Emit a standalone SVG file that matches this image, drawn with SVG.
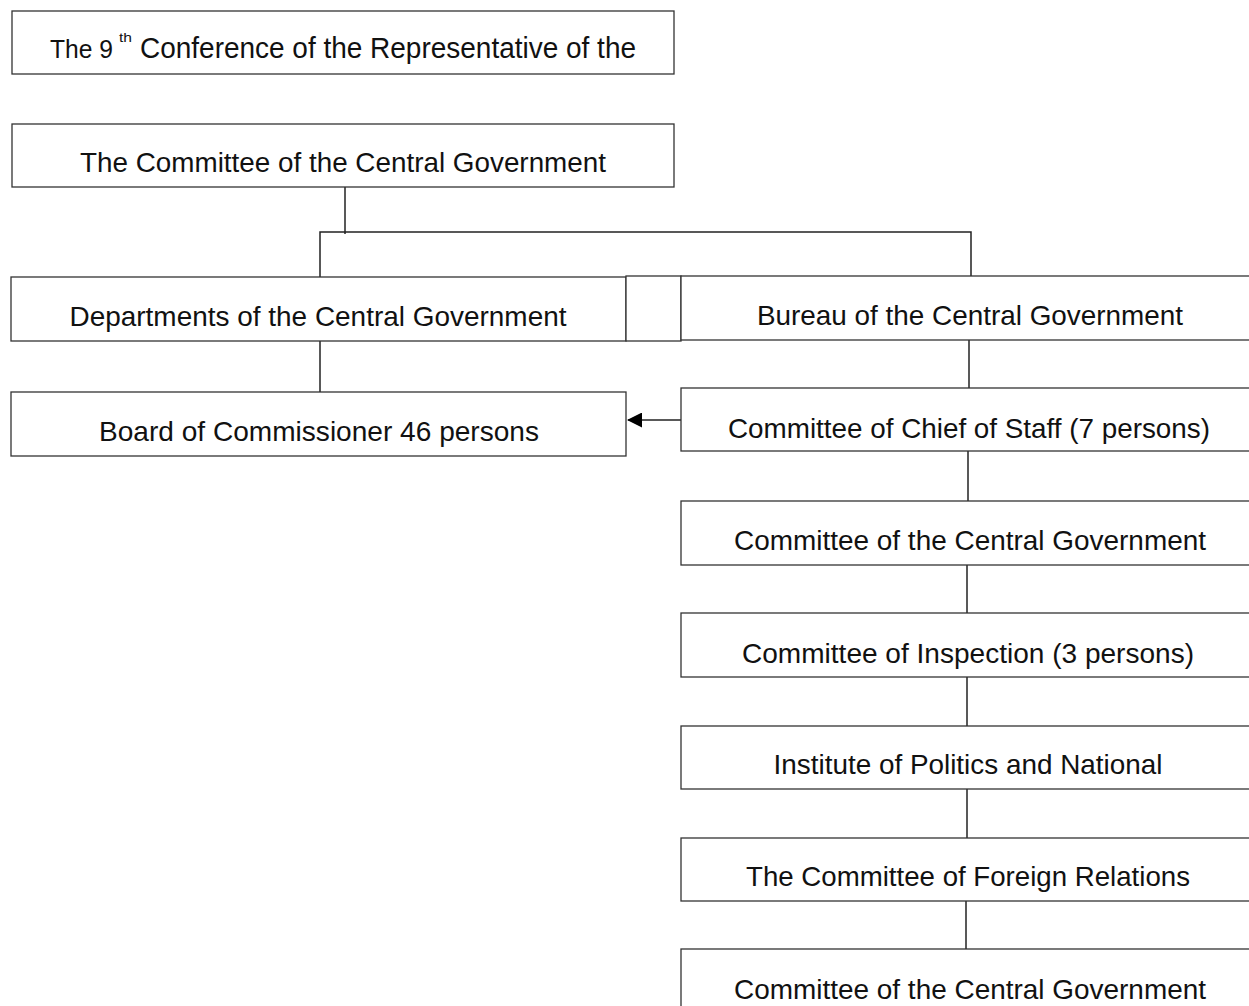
<svg xmlns="http://www.w3.org/2000/svg" width="1249" height="1006" viewBox="0 0 1249 1006">
<style>
.box{fill:#fff;stroke:#333;stroke-width:1.3}
.t{font-family:"Liberation Sans",Arial,sans-serif;font-size:27.5px;fill:#111;text-anchor:middle}
.n{font-family:"Liberation Sans Narrow","Liberation Sans",Arial,sans-serif;font-size:29px;fill:#111}
.n9{font-family:"Liberation Sans Narrow","Liberation Sans",Arial,sans-serif;font-size:26px;fill:#111}
.sup{font-family:"Liberation Sans",Arial,sans-serif;font-size:13px;fill:#111}
.c{fill:none;stroke:#222;stroke-width:1.5}
</style>
<defs>
<marker id="ah" markerWidth="15" markerHeight="15" refX="14" refY="7.5" orient="auto" markerUnits="userSpaceOnUse">
<path d="M0,0 L15,7.5 L0,15 Z" fill="#000"/>
</marker>
</defs>
<rect width="1249" height="1006" fill="#fff"/>
<g id="connectors">
<line class="c" x1="345" y1="187" x2="345" y2="234"/>
<polyline class="c" points="320,277 320,232 971,232 971,276"/>
<line class="c" x1="320" y1="341" x2="320" y2="392"/>
<line class="c" x1="969" y1="340" x2="969" y2="388"/>
<line class="c" x1="681" y1="420" x2="628" y2="420" stroke-width="2.2" marker-end="url(#ah)"/>
<line class="c" x1="968" y1="451" x2="968" y2="501"/>
<line class="c" x1="967" y1="565" x2="967" y2="613"/>
<line class="c" x1="967" y1="677" x2="967" y2="726"/>
<line class="c" x1="967" y1="789" x2="967" y2="838"/>
<line class="c" x1="966" y1="901" x2="966" y2="949"/>
</g>
<g id="n-conference">
<rect class="box" x="12" y="11" width="662" height="63"/>
<text class="n9" x="50" y="58" textLength="63" lengthAdjust="spacingAndGlyphs">The 9</text>
<text class="sup" x="119" y="42" textLength="13" lengthAdjust="spacingAndGlyphs">th</text>
<text class="n" x="140" y="58" textLength="496" lengthAdjust="spacingAndGlyphs">Conference of the Representative of the</text>
</g>
<g id="n-committee-central">
<rect class="box" x="12" y="124" width="662" height="63"/>
<text class="t" x="343" y="172" textLength="526" lengthAdjust="spacingAndGlyphs">The Committee of the Central Government</text>
</g>
<g id="n-departments">
<rect class="box" x="11" y="277" width="615" height="64"/>
<text class="t" x="318" y="326" textLength="497" lengthAdjust="spacingAndGlyphs">Departments of the Central Government</text>
</g>
<g id="n-small">
<rect class="box" x="626" y="276" width="55" height="65"/>
</g>
<g id="n-bureau">
<rect class="box" x="681" y="276" width="580" height="64"/>
<text class="t" x="970" y="325" textLength="426" lengthAdjust="spacingAndGlyphs">Bureau of the Central Government</text>
</g>
<g id="n-board">
<rect class="box" x="11" y="392" width="615" height="64"/>
<text class="t" x="319" y="441" textLength="440" lengthAdjust="spacingAndGlyphs">Board of Commissioner 46 persons</text>
</g>
<g id="n-chief">
<rect class="box" x="681" y="388" width="580" height="63"/>
<text class="t" x="969" y="438" textLength="482" lengthAdjust="spacingAndGlyphs">Committee of Chief of Staff (7 persons)</text>
</g>
<g id="n-committee2">
<rect class="box" x="681" y="501" width="580" height="64"/>
<text class="t" x="970" y="550" textLength="472" lengthAdjust="spacingAndGlyphs">Committee of the Central Government</text>
</g>
<g id="n-inspection">
<rect class="box" x="681" y="613" width="580" height="64"/>
<text class="t" x="968" y="663" textLength="452" lengthAdjust="spacingAndGlyphs">Committee of Inspection (3 persons)</text>
</g>
<g id="n-institute">
<rect class="box" x="681" y="726" width="580" height="63"/>
<text class="t" x="968" y="774" textLength="389" lengthAdjust="spacingAndGlyphs">Institute of Politics and National</text>
</g>
<g id="n-foreign">
<rect class="box" x="681" y="838" width="580" height="63"/>
<text class="t" x="968" y="886" textLength="444" lengthAdjust="spacingAndGlyphs">The Committee of Foreign Relations</text>
</g>
<g id="n-committee3">
<rect class="box" x="681" y="949" width="580" height="70"/>
<text class="t" x="970" y="999" textLength="472" lengthAdjust="spacingAndGlyphs">Committee of the Central Government</text>
</g>
</svg>
